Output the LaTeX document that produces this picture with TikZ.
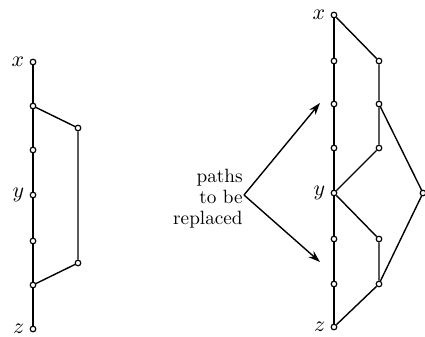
\documentclass[tikz,border=0pt]{standalone}
\usetikzlibrary{arrows.meta}
\tikzset{
  vtx/.style={circle,draw,fill=white,inner sep=0pt,minimum size=2.8pt,line width=0.6pt},
  lab/.style={left,font=\fontsize{11}{12}\selectfont,inner sep=2.5pt},
  edge/.style={line width=0.7pt}
}
\begin{document}
\begin{tikzpicture}[x=0.5pt,y=-0.5pt,>={Stealth[length=6pt,width=4pt]}]
  \useasboundingbox (0,0) rectangle (425,337);

  % left diagram
  \foreach \i/\yy in {0/62,1/106,2/150,3/195,4/241,5/285,6/329}
    \node[vtx] (L\i) at (33,\yy) {};
  \node[vtx] (La) at (78,128) {};
  \node[vtx] (Lb) at (78,263) {};
  \node[lab] at (L0.west) {$x$};
  \node[lab] at (L3.west) {$y$};
  \node[lab] at (L6.west) {$z$};
  \draw[edge] (L0)--(L1)--(L2)--(L3)--(L4)--(L5)--(L6);
  \draw[edge] (L1)--(La)--(Lb)--(L5);

  % right diagram
  \foreach \i/\yy in {0/15,1/61,2/104,3/148,4/193,5/239,6/284,7/327}
    \node[vtx] (R\i) at (334,\yy) {};
  \foreach \i/\yy in {1/61,2/104,3/148,5/239,6/284}
    \node[vtx] (M\i) at (379,\yy) {};
  \node[vtx] (F) at (423,193) {};
  \node[lab] at (R0.west) {$x$};
  \node[lab] at (R4.west) {$y$};
  \node[lab] at (R7.west) {$z$};
  \draw[edge] (R0)--(R1)--(R2)--(R3)--(R4)--(R5)--(R6)--(R7);
  \draw[edge] (R0)--(M1)--(M2)--(M3)--(R4)--(M5)--(M6)--(R7);
  \draw[edge] (M2)--(F)--(M6);

  % label with arrows
  \node[align=right,anchor=east,inner sep=0pt,font=\fontsize{9.6}{10.5}\selectfont]
    (txt) at (243,199) {paths\\to be\\replaced};
  \coordinate (apex) at (244,195);
  \coordinate (up) at (320,103);
  \coordinate (dn) at (320,262);
  \draw[edge,->] (apex)--(up);
  \draw[edge,->] (apex)--(dn);
\end{tikzpicture}
\end{document}
